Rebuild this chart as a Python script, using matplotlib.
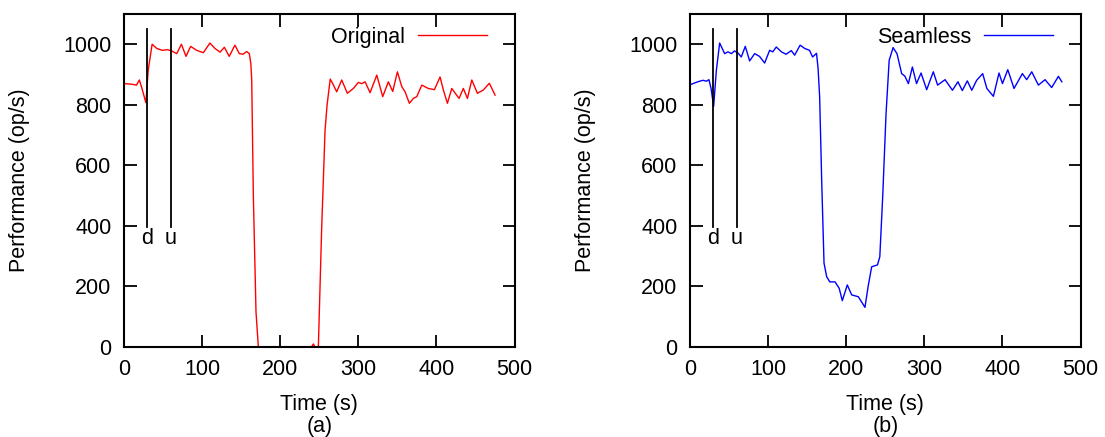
import numpy as np
import matplotlib.pyplot as plt

plt.rcParams['font.family'] = ['Liberation Sans', 'DejaVu Sans']
plt.rcParams['font.size'] = 15.5

# throughput of the original system (op/s) over time (s)
orig_t = [0, 9.8, 16, 19.7, 23, 28, 31, 36, 42, 49, 56, 61, 67.5, 73.5, 79.4,
          85.3, 93, 101.6, 110, 116.5, 123, 128.5, 134.7, 142, 147.6, 152.5,
          157, 160.4, 162.4, 163.5, 165.6, 169, 172, 200, 240, 242.4, 244.5,
          248.8, 253, 257.4, 260, 264, 267.2, 272.3, 278.7, 285.9, 293.6, 300,
          304.3, 308.6, 315, 323.6, 331.2, 338.4, 344, 350, 355.6, 359.8,
          365.3, 370.4, 374.8, 381.2, 389.6, 397.3, 404.6, 408.8, 414, 419.6,
          428.9, 434.4, 439.6, 445.2, 452.4, 460, 467.7, 475]
orig_v = [870, 868, 865, 882, 854, 807, 914, 1000, 986, 980, 982, 978, 969,
          1000, 960, 993, 980, 972, 1004, 986, 974, 990, 960, 997, 969, 967,
          976, 969, 936, 882, 498, 115, 0, 0, 0, 10, 0, 0, 388, 717, 800, 885,
          870, 843, 882, 838, 854, 874, 870, 876, 840, 898, 827, 876, 844, 909,
          860, 843, 805, 821, 827, 865, 854, 850, 892, 849, 805, 854, 821, 854,
          821, 882, 838, 849, 871, 832]

# throughput with seamless handover
seam_t = [0, 3.8, 10, 16.6, 21, 24.3, 27, 30.3, 33.8, 38, 44.4, 48.7, 53, 57,
          61.5, 65.7, 70.8, 76.4, 82.8, 89, 95.6, 102, 106, 110.5, 117, 123,
          129.7, 134, 141, 147, 153, 157, 162, 164, 166, 168.6, 171.6, 175,
          179, 185.7, 191, 195, 201.4, 207, 215.5, 224, 228, 232.6, 240, 243,
          246.7, 251, 255, 260, 265, 271, 275, 279.6, 284.7, 290, 295.8, 303,
          311.5, 317, 326.5, 336, 343, 348.6, 355, 360.7, 367, 374.7, 380,
          388.4, 395.6, 400, 406.8, 414.8, 425.5, 431, 437.5, 446, 454.5, 463,
          471.6, 476]
seam_v = [866, 870, 876, 881, 878, 883, 854, 795, 914, 1004, 969, 975, 969,
          978, 971, 958, 993, 945, 969, 960, 938, 980, 975, 991, 975, 967, 979,
          964, 997, 986, 980, 958, 970, 920, 826, 551, 277, 232, 215, 215, 194,
          153, 205, 172, 166, 131, 199, 265, 271, 298, 496, 771, 947, 989, 969,
          903, 895, 870, 925, 870, 905, 850, 909, 865, 883, 848, 876, 847, 879,
          848, 881, 903, 854, 828, 905, 870, 916, 854, 903, 883, 909, 865, 883,
          857, 894, 876]

# down / up events
event_t = [30, 60]
event_lbl = ['d', 'u']

panels = [
    (orig_t, orig_v, 'Original', 'red', '(a)', 0.1122),
    (seam_t, seam_v, 'Seamless', 'blue', '(b)', 0.6244),
]

fig = plt.figure(figsize=(11.05, 4.37), dpi=100)

for t, v, name, col, tag, left in panels:
    ax = fig.add_axes([left, 0.206, 0.3535, 0.762])
    ax.plot(t, v, color=col, lw=1, label=name)
    for et, lb in zip(event_t, event_lbl):
        ax.plot([et, et], [395, 1050], color='black', lw=1.3)
        ax.text(et, 392, lb, ha='center', va='top')
    ax.set_xlim(0, 500)
    ax.set_ylim(0, 1100)
    ax.set_xticks(np.arange(0, 501, 100))
    ax.set_yticks(np.arange(0, 1001, 200))
    ax.tick_params(direction='in', length=9, width=1.3, top=True, right=True,
                   pad=9)
    for sp in ax.spines.values():
        sp.set_linewidth(1.5)
    ax.set_xlabel('Time (s)', labelpad=10)
    ax.set_ylabel('Performance (op/s)', labelpad=24)
    ax.legend(loc='upper right', bbox_to_anchor=(0.962, 1.0), frameon=False,
              markerfirst=False, handlelength=3.2, borderaxespad=0.2,
              handletextpad=0.6)
    fig.text(left + 0.3535 / 2, 0.0, tag, ha='center', va='bottom')

fig.savefig('out.png')
